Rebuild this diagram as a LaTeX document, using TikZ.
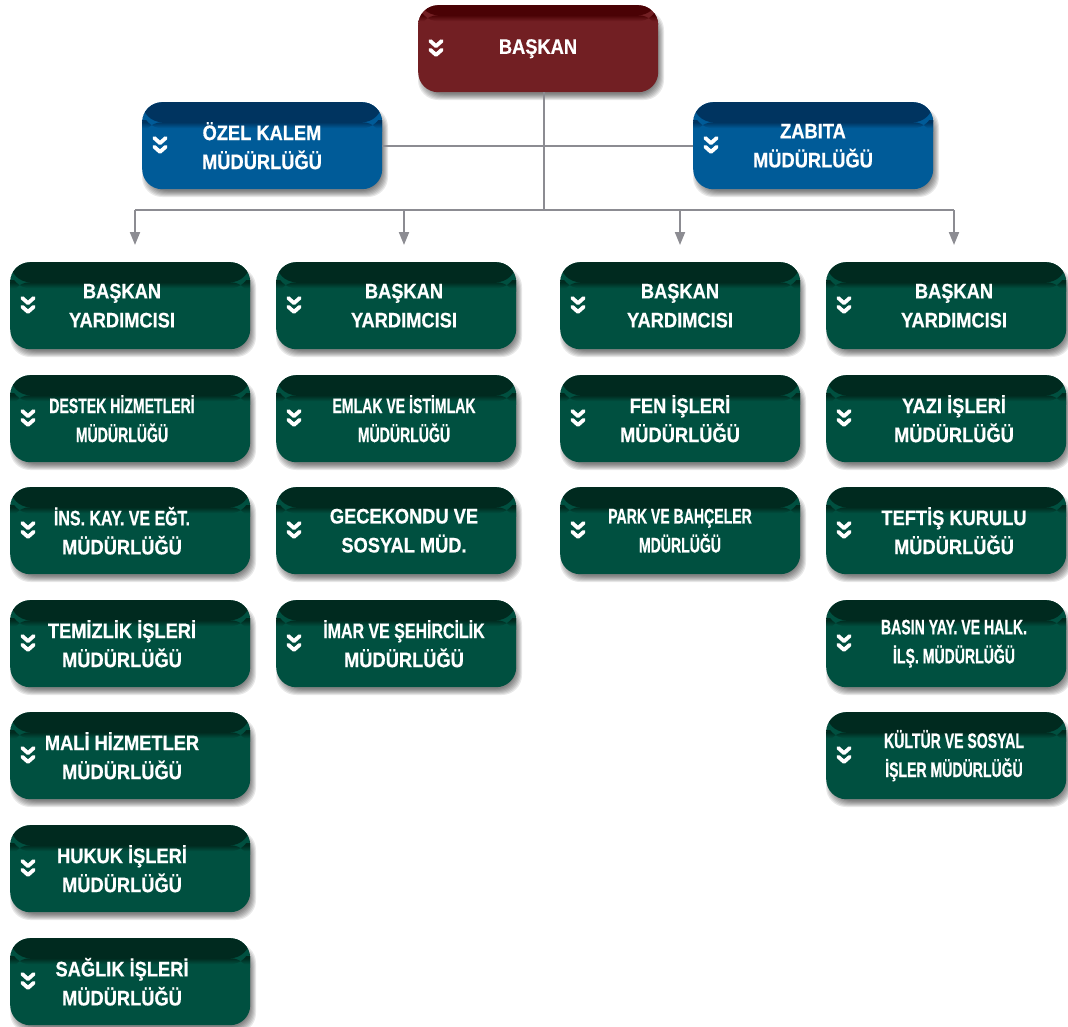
\documentclass[tikz,border=0pt]{standalone}
\usepackage{fontspec}
\newfontfamily\boxfont[FakeStretch=0.87,FakeBold=0.6]{Liberation Sans}
\newfontfamily\boxfontM[FakeStretch=0.76,FakeBold=0.6]{Liberation Sans}
\newfontfamily\boxfontN[FakeStretch=0.67,FakeBold=0.6]{Liberation Sans}
\usetikzlibrary{arrows.meta}
\definecolor{gbody}{RGB}{0,80,64}
\definecolor{gband}{RGB}{0,42,31}
\definecolor{bbody}{RGB}{0,91,152}
\definecolor{bband}{RGB}{0,52,96}
\definecolor{rbody}{RGB}{114,31,35}
\definecolor{rband}{RGB}{74,2,5}
\definecolor{conncol}{RGB}{140,140,146}
\tikzset{
  orgbox/.style={rectangle, rounded corners=20pt, minimum width=240pt, minimum height=87pt,
    inner sep=0pt, anchor=north west},
  shadowlayer/.style={fill=black, fill opacity=0.09, rounded corners=20pt},
  bandfill/.style n args={3}{path picture={
      \fill[#2] (path picture bounding box.north west) rectangle ([yshift=-#3pt]path picture bounding box.north east);
      \shade[top color=#2,bottom color=#1] ([yshift=-#3pt]path picture bounding box.north west) rectangle ([yshift=-#3pt-6pt]path picture bounding box.north east);}},
  greenbox/.style={orgbox, fill=gbody, bandfill={gbody}{gband}{20}},
  bluebox/.style={orgbox, fill=bbody, bandfill={bbody}{bband}{20}},
  redbox/.style={orgbox, fill=rbody, bandfill={rbody}{rband}{10}},
  boxtxt/.style={text=white, align=center, inner sep=0pt,
    font=\boxfont\bfseries\fontsize{21}{29}\selectfont},
  conn/.style={draw=conncol, line width=2pt},
  chev/.pic={\draw[white, line width=3.8pt, line cap=round, line join=round]
      (-5.8,-7.8) -- (0,-2.6) -- (5.8,-7.8) (-5.8,1) -- (0,6.2) -- (5.8,1);}
}
% name, style, left, top, text offset, text
\newcommand\orgnode[6]{%
  \foreach \r in {-3,-2,-1,0,1,2,3}
    \fill[shadowlayer] ({#3+3-\r},{#4+8-\r}) rectangle ({#3+243+\r},{#4+92+\r});
  \node[#2] (#1) at (#3,#4) {};
  \pic at ([xshift=18pt]#1.west) {chev};
  \node[boxtxt] (#1t) at ([xshift=#5pt]#1.west) {#6};
}
\newcommand\nN[1]{{\boxfontN #1}}
\newcommand\nM[1]{{\boxfontM #1}}
\begin{document}
\begin{tikzpicture}[x=1pt,y=-1pt]
\useasboundingbox (0,0) rectangle (1068,1026);
% top level
\orgnode{baskan}{redbox}{418}{5}{120}{BAŞKAN}
\orgnode{ozel}{bluebox}{142}{102}{120}{ÖZEL KALEM\\MÜDÜRLÜĞÜ}
\orgnode{zabita}{bluebox}{693}{102}{120}{ZABITA\\MÜDÜRLÜĞÜ}
% column 1
\orgnode{a1}{greenbox}{10}{262}{112}{BAŞKAN\\YARDIMCISI}
\orgnode{a2}{greenbox}{10}{375}{112}{\nN{DESTEK HİZMETLERİ}\\\nN{MÜDÜRLÜĞÜ}}
\orgnode{a3}{greenbox}{10}{487}{112}{\nM{İNS. KAY. VE EĞT.}\\MÜDÜRLÜĞÜ}
\orgnode{a4}{greenbox}{10}{600}{112}{TEMİZLİK İŞLERİ\\MÜDÜRLÜĞÜ}
\orgnode{a5}{greenbox}{10}{712}{112}{MALİ HİZMETLER\\MÜDÜRLÜĞÜ}
\orgnode{a6}{greenbox}{10}{825}{112}{HUKUK İŞLERİ\\MÜDÜRLÜĞÜ}
\orgnode{a7}{greenbox}{10}{938}{112}{SAĞLIK İŞLERİ\\MÜDÜRLÜĞÜ}
% column 2
\orgnode{b1}{greenbox}{276}{262}{128}{BAŞKAN\\YARDIMCISI}
\orgnode{b2}{greenbox}{276}{375}{128}{\nN{EMLAK VE İSTİMLAK}\\\nN{MÜDÜRLÜĞÜ}}
\orgnode{b3}{greenbox}{276}{487}{128}{GECEKONDU VE\\SOSYAL MÜD.}
\orgnode{b4}{greenbox}{276}{600}{128}{\nM{İMAR VE ŞEHİRCİLİK}\\MÜDÜRLÜĞÜ}
% column 3
\orgnode{c1}{greenbox}{560}{262}{120}{BAŞKAN\\YARDIMCISI}
\orgnode{c2}{greenbox}{560}{375}{120}{FEN İŞLERİ\\MÜDÜRLÜĞÜ}
\orgnode{c3}{greenbox}{560}{487}{120}{\nN{PARK VE BAHÇELER}\\\nN{MDÜRLÜĞÜ}}
% column 4
\orgnode{d1}{greenbox}{826}{262}{128}{BAŞKAN\\YARDIMCISI}
\orgnode{d2}{greenbox}{826}{375}{128}{YAZI İŞLERİ\\MÜDÜRLÜĞÜ}
\orgnode{d3}{greenbox}{826}{487}{128}{TEFTİŞ KURULU\\MÜDÜRLÜĞÜ}
\orgnode{d4}{greenbox}{826}{600}{128}{\nN{BASIN YAY. VE HALK.}\\\nN{İLŞ. MÜDÜRLÜĞÜ}}
\orgnode{d5}{greenbox}{826}{712}{128}{\nN{KÜLTÜR VE SOSYAL}\\\nN{İŞLER MÜDÜRLÜĞÜ}}
% connectors
\coordinate (hub) at (544,210);
\coordinate (s1) at (135,210);
\coordinate (s2) at (404,210);
\coordinate (s3) at (680,210);
\coordinate (s4) at (954,210);
\coordinate (e1) at (135,245);
\coordinate (e2) at (404,245);
\coordinate (e3) at (680,245);
\coordinate (e4) at (954,245);
\draw[conn] (baskan.south -| hub) -- (hub);
\draw[conn] (ozel.east) -- (zabita.west);
\draw[conn] (s1) -- (s4);
\foreach \i in {1,2,3,4}
  \draw[conn, -{Triangle[width=10pt,length=13pt]}, conncol] (s\i) -- (e\i);
\end{tikzpicture}
\end{document}
